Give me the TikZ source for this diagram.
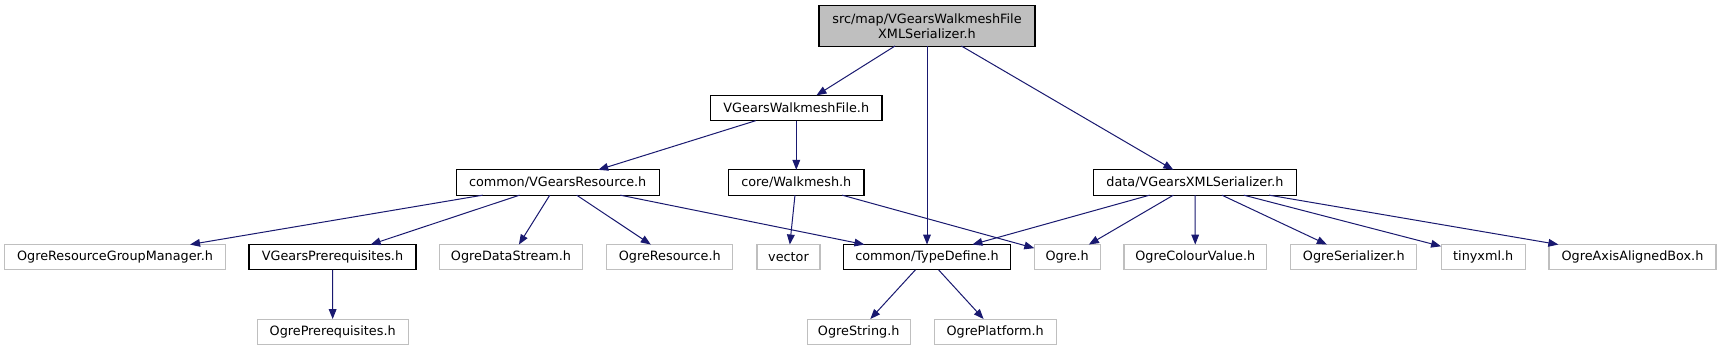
\documentclass[tikz,border=0pt]{standalone}
\usepackage{fontspec}
\setmainfont{DejaVu Sans}
\usetikzlibrary{arrows.meta}
\definecolor{edgeblue}{RGB}{25,25,112}
\definecolor{greyline}{RGB}{191,191,191}
\definecolor{mainfill}{RGB}{191,191,191}
\begin{document}
\begin{tikzpicture}[x=0.75pt,y=-0.75pt,
  every node/.style={font=\fontsize{9.6}{11.25}\selectfont, inner sep=0pt, outer sep=0pt, text=black},
  sz/.style={minimum width=#1, minimum height=19pt},
  blackbox/.style={draw=black, line width=0.8pt, fill=white},
  greybox/.style={draw=greyline, line width=0.8pt, fill=white},
  mainbox/.style={draw=black, line width=0.8pt, fill=mainfill, align=center, minimum width=162pt, minimum height=30.2pt},
  edge/.style={draw=edgeblue, line width=0.75pt, -{Triangle[length=7.5pt,width=5.8pt]}}
]
\useasboundingbox (0,0) rectangle (1721,351);
\fill[white] (0,0) rectangle (1721,351);

% row 1
\node[mainbox] (main) at (927,25.9) {src/map/VGearsWalkmeshFile\\XMLSerializer.h};
% row 2
\node[blackbox, sz=128.5pt] (vgwf) at (796.3,108) {VGearsWalkmeshFile.h};
% row 3
\node[blackbox, sz=152.5pt] (vgres) at (557.7,182.5) {common/VGearsResource.h};
\node[blackbox, sz=101.5pt] (walk) at (796.3,182.5) {core/Walkmesh.h};
\node[blackbox, sz=152.5pt] (xmls) at (1195,182.5) {data/VGearsXMLSerializer.h};
% row 4
\node[greybox, sz=165.5pt] (orgm) at (115,257.2) {OgreResourceGroupManager.h};
\node[blackbox, sz=125.25pt] (vgpre) at (332.5,257.2) {VGearsPrerequisites.h};
\node[greybox, sz=107.55pt] (ods) at (511,257.2) {OgreDataStream.h};
\node[greybox, sz=94.3pt] (ores) at (669.8,257.2) {OgreResource.h};
\node[greybox, sz=47.25pt] (vector) at (788.5,257.2) {vector};
\node[blackbox, sz=125.55pt] (typedef) at (927,257.2) {common/TypeDefine.h};
\node[greybox, sz=49.3pt] (ogre) at (1067.2,257.2) {Ogre.h};
\node[greybox, sz=107pt] (ocv) at (1195.3,257.2) {OgreColourValue.h};
\node[greybox, sz=94.3pt] (oser) at (1353.8,257.2) {OgreSerializer.h};
\node[greybox, sz=63.2pt] (tiny) at (1483.2,257.2) {tinyxml.h};
\node[greybox, sz=125.25pt] (oaab) at (1632.5,257.2) {OgreAxisAlignedBox.h};
% row 5
\node[greybox, sz=113pt] (opre) at (332.7,331.7) {OgrePrerequisites.h};
\node[greybox, sz=77pt] (ostr) at (858.7,331.7) {OgreString.h};
\node[greybox, sz=91.3pt] (oplat) at (995.2,331.7) {OgrePlatform.h};

% edges
\draw[edge] (main) -- (vgwf);
\draw[edge] (main) -- (typedef);
\draw[edge] (main) -- (xmls);
\draw[edge] (vgwf) -- (vgres);
\draw[edge] (vgwf) -- (walk);
\draw[edge] (vgres) -- (orgm);
\draw[edge] (vgres) -- (vgpre);
\draw[edge] (vgres) -- (ods);
\draw[edge] (vgres) -- (ores);
\draw[edge] (vgres) -- (typedef);
\draw[edge] (walk) -- (vector);
\draw[edge] (walk) -- (ogre);
\draw[edge] (xmls) -- (typedef);
\draw[edge] (xmls) -- (ogre);
\draw[edge] (xmls) -- (ocv);
\draw[edge] (xmls) -- (oser);
\draw[edge] (xmls) -- (tiny);
\draw[edge] (xmls) -- (oaab);
\draw[edge] (vgpre) -- (opre);
\draw[edge] (typedef) -- (ostr);
\draw[edge] (typedef) -- (oplat);
\end{tikzpicture}
\end{document}
